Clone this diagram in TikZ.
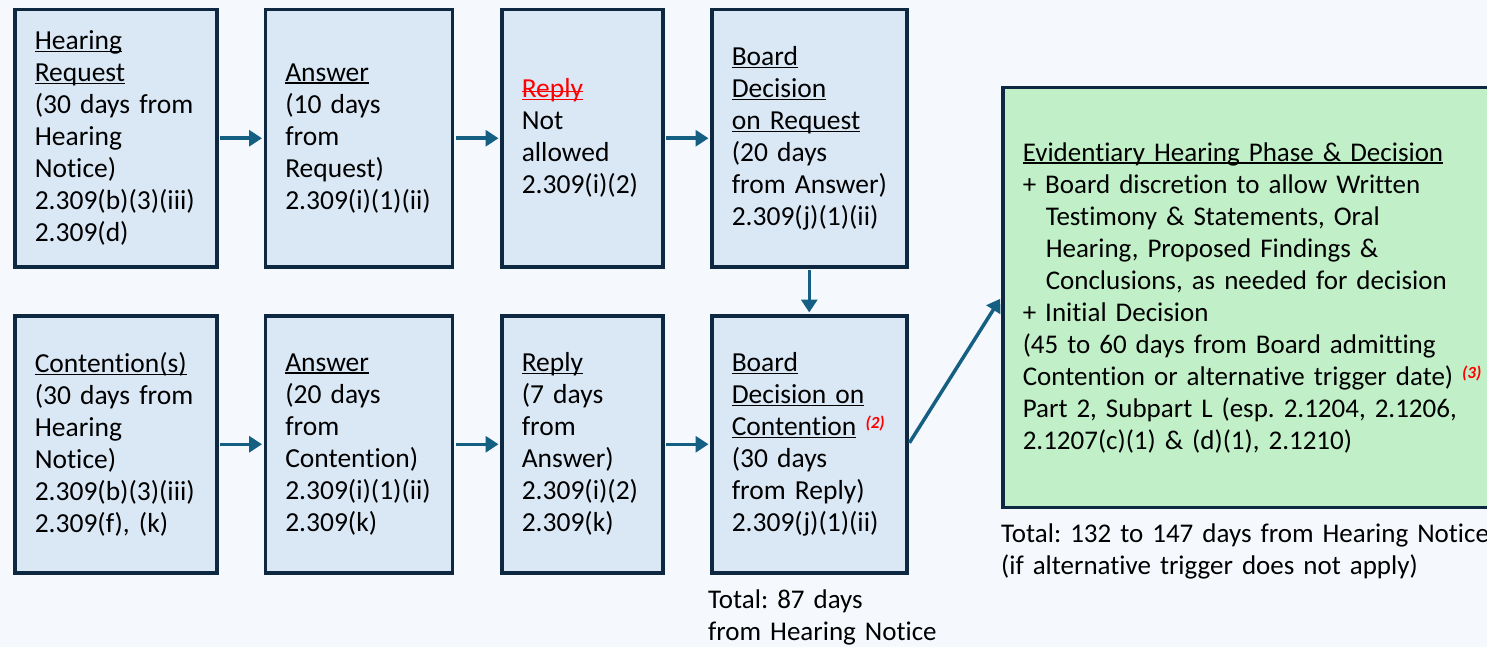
\documentclass[tikz,border=0pt]{standalone}
\usepackage{fontspec}
\setmainfont[Ligatures=NoCommon]{Carlito}
\usetikzlibrary{arrows.meta}
\frenchspacing

\definecolor{pagebg}{HTML}{F5F8FC}
\definecolor{boxfill}{HTML}{DAE8F6}
\definecolor{navy}{HTML}{0E2841}
\definecolor{flowblue}{HTML}{156082}
\definecolor{evidgreen}{HTML}{C1F0C8}
\definecolor{notered}{HTML}{FF0000}

\newcommand{\headln}[1]{\leavevmode\setbox0\hbox{#1}\rlap{\rule[-2.5pt]{\wd0}{1.3pt}}\box0}
\newcommand{\struck}[1]{\leavevmode\setbox0\hbox{#1}\rlap{\rule[6pt]{\wd0}{1.3pt}}\box0}
\newcommand{\fnref}[1]{\textcolor{notered}{\raisebox{7pt}{\fontsize{17}{17}\selectfont\bfseries\itshape(#1)}}}

\begin{document}
\begin{tikzpicture}[x=1pt, y=1pt,
  stepbox/.style={draw=navy, fill=boxfill, line width=3.5pt, anchor=north west,
    inner xsep=20pt, inner ysep=0pt, align=left, minimum height=257pt,
    font=\fontsize{27.5}{32}\selectfont},
  flow/.style={draw=flowblue, line width=3.5pt, -{Triangle[length=13pt,width=16pt]},
    shorten >=1.5pt, shorten <=1.75pt},
  total/.style={anchor=base west, inner sep=0pt, align=left,
    font=\fontsize{27}{32}\selectfont}]

\clip (0,0) rectangle (1487,-647);
\fill[pagebg] (0,0) rectangle (1487,-647);

% hearing request track
\node[stepbox, text width=162pt] (req) at (13,-8) {\headln{Hearing}\\ \headln{Request}\\ (30 days from\\ Hearing\\ Notice)\\ 2.309(b)(3)(iii)\\ 2.309(d)};
\node[stepbox, text width=147pt] (ans1) at (263.5,-8) {\headln{Answer}\\ (10 days\\ from\\ Request)\\ 2.309(i)(1)(ii)};
\node[stepbox, text width=121pt] (rep1) at (500,-8) {\textcolor{notered}{\headln{\struck{Reply}}}\\ Not\\ allowed\\ 2.309(i)(2)};
\node[stepbox, text width=155pt] (dec1) at (710,-8) {\headln{Board}\\ \headln{Decision}\\ \headln{on Request}\\ (20 days\\ \mbox{from Answer)}\\ 2.309(j)(1)(ii)};

% contention track
\node[stepbox, text width=162pt] (cont) at (13,-314) {\headln{Contention(s)}\\ \mbox{(30 days from}\\ Hearing\\ Notice)\\ 2.309(b)(3)(iii)\\ 2.309(f), (k)};
\node[stepbox, text width=147pt] (ans2) at (263.5,-314) {\headln{Answer}\\ (20 days\\ from\\ Contention)\\ 2.309(i)(1)(ii)\\ 2.309(k)};
\node[stepbox, text width=121pt] (rep2) at (500,-314) {\headln{Reply}\\ (7 days\\ from\\ Answer)\\ 2.309(i)(2)\\ 2.309(k)};
\node[stepbox, text width=155pt] (dec2) at (710,-314) {\headln{Board}\\ \headln{Decision on}\\ \mbox{\headln{Contention}\ \fnref{2}}\\ (30 days\\ from Reply)\\ 2.309(j)(1)(ii)};

% hearing phase
\node[stepbox, fill=evidgreen, text width=480pt, minimum height=419.5pt,
  font=\fontsize{27}{32}\selectfont] (evid) at (1001,-86) {\headln{Evidentiary Hearing Phase \& Decision}\\ + Board discretion to allow Written\\ \hspace*{23pt}Testimony \& Statements, Oral\\ \hspace*{23pt}Hearing, Proposed Findings \&\\ \hspace*{23pt}Conclusions, as needed for decision\\ + Initial Decision\\ (45 to 60 days from Board admitting\\ \mbox{Contention or alternative trigger date)\ \fnref{3}}\\ Part 2, Subpart L (esp. 2.1204, 2.1206,\\ 2.1207(c)(1) \& (d)(1), 2.1210)};

\node[total, text width=250pt] (tot1) at (708,-608) {Total: 87 days\\ from Hearing Notice};
\node[total, text width=486pt] (tot2) at (1001,-542.7) {\mbox{Total: 132 to 147 days from Hearing Notice}\\ (if alternative trigger does not apply)};

\draw[flow] (req) -- (ans1);
\draw[flow] (ans1) -- (rep1);
\draw[flow] (rep1) -- (dec1);
\draw[flow] (dec1) -- (dec2);
\draw[flow] (cont) -- (ans2);
\draw[flow] (ans2) -- (rep2);
\draw[flow] (rep2) -- (dec2);
\draw[flow] (dec2.east) -- (evid.west);
\end{tikzpicture}
\end{document}
